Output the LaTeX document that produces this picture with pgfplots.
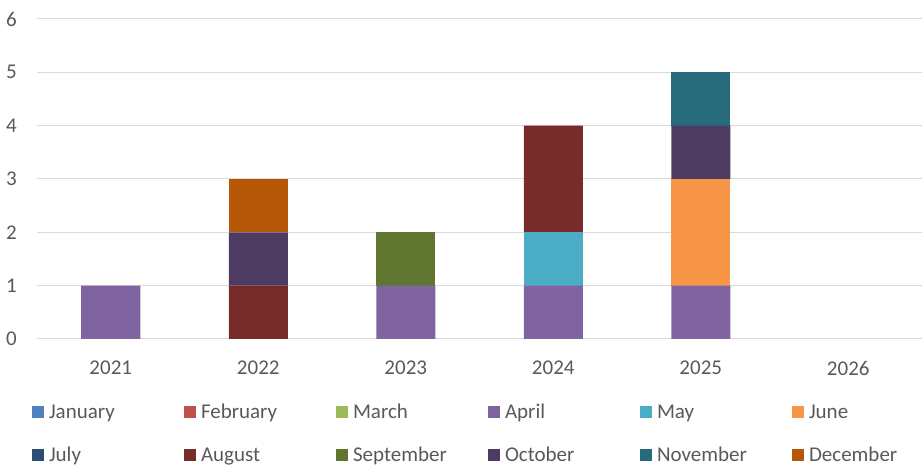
\documentclass[border=0pt]{standalone}
\usepackage{fontspec}
\setmainfont{Carlito}
\usepackage{pgfplots}
\pgfplotsset{compat=1.18}
\usepackage{pgfplotstable}
\definecolor{txt}{HTML}{595959}
\definecolor{gridc}{HTML}{D9D9D9}
\definecolor{cJan}{HTML}{4F81BD}
\definecolor{cFeb}{HTML}{C0504D}
\definecolor{cMar}{HTML}{9BBB59}
\definecolor{cApr}{HTML}{8064A2}
\definecolor{cMay}{HTML}{4BACC6}
\definecolor{cJun}{HTML}{F79646}
\definecolor{cJul}{HTML}{2C4D75}
\definecolor{cAug}{HTML}{772C2A}
\definecolor{cSep}{HTML}{5F7530}
\definecolor{cOct}{HTML}{4D3B62}
\definecolor{cNov}{HTML}{276A7C}
\definecolor{cDec}{HTML}{B65708}
\pgfplotstableread{
x Jan Feb Mar Apr May Jun Jul Aug Sep Oct Nov Dec
0 0 0 0 1 0 0 0 0 0 0 0 0
1 0 0 0 0 0 0 0 1 0 1 0 1
2 0 0 0 1 0 0 0 0 1 0 0 0
3 0 0 0 1 1 0 0 2 0 0 0 0
4 0 0 0 1 0 2 0 0 0 1 1 0
5 0 0 0 0 0 0 0 0 0 0 0 0
}\data
\newcommand{\fs}{\fontsize{21}{25.2}\selectfont}
\newcommand{\lgent}[2][135pt]{\makebox[#1][l]{\strut #2}}
\begin{document}
\begin{tikzpicture}
\begin{axis}[
  scale only axis,
  width=885pt, height=320pt,
  ybar stacked, bar width=0.4,
  xmin=-0.5, xmax=5.5, ymin=0, ymax=6,
  xtick={0,1,2,3,4,5},
  xticklabels={2021,2022,2023,2024,2025,2026},
  ytick={0,1,2,3,4,5,6},
  axis x line*=bottom, axis y line*=left,
  x axis line style={draw=gridc, line width=1pt, -},
  y axis line style={draw=none},
  ymajorgrids, grid style={draw=gridc, line width=1pt},
  major tick length=0pt,
  /pgf/number format/assume math mode=true,
  every tick label/.append style={font=\fs, text=txt},
  yticklabel style={inner sep=0pt, anchor=east, xshift=-20pt},
  xticklabel style={inner sep=0pt, anchor=north, yshift=-22pt},
  legend columns=6,
  legend image code/.code={\fill[#1] (0pt,-8pt) rectangle (12pt,4pt);},
  legend style={draw=none, fill=none, font=\fs, text=txt,
    at={(axis description cs:-0.00565,-0.193)}, anchor=north west,
    inner sep=0pt, outer sep=0pt, column sep=0pt, row sep=24pt,
    nodes={inner sep=0pt},
    /tikz/every odd column/.append style={column sep=5pt}},
  legend cell align=left,
  clip=false,
]
\addplot[fill=cJan, draw=none] table[x=x,y=Jan]{\data};
\addlegendentry{\lgent{January}}
\addplot[fill=cFeb, draw=none] table[x=x,y=Feb]{\data};
\addlegendentry{\lgent{February}}
\addplot[fill=cMar, draw=none] table[x=x,y=Mar]{\data};
\addlegendentry{\lgent{March}}
\addplot[fill=cApr, draw=none] table[x=x,y=Apr]{\data};
\addlegendentry{\lgent{April}}
\addplot[fill=cMay, draw=none] table[x=x,y=May]{\data};
\addlegendentry{\lgent{May}}
\addplot[fill=cJun, draw=none] table[x=x,y=Jun]{\data};
\addlegendentry{\lgent[100pt]{June}}
\addplot[fill=cJul, draw=none] table[x=x,y=Jul]{\data};
\addlegendentry{\lgent{July}}
\addplot[fill=cAug, draw=none] table[x=x,y=Aug]{\data};
\addlegendentry{\lgent{August}}
\addplot[fill=cSep, draw=none] table[x=x,y=Sep]{\data};
\addlegendentry{\lgent{September}}
\addplot[fill=cOct, draw=none] table[x=x,y=Oct]{\data};
\addlegendentry{\lgent{October}}
\addplot[fill=cNov, draw=none] table[x=x,y=Nov]{\data};
\addlegendentry{\lgent{November}}
\addplot[fill=cDec, draw=none] table[x=x,y=Dec]{\data};
\addlegendentry{\lgent[100pt]{December}}
\end{axis}
\path ([shift={(-37pt,-130pt)}]current axis.south west) rectangle ([shift={(1pt,19pt)}]current axis.north east);
\end{tikzpicture}
\end{document}
